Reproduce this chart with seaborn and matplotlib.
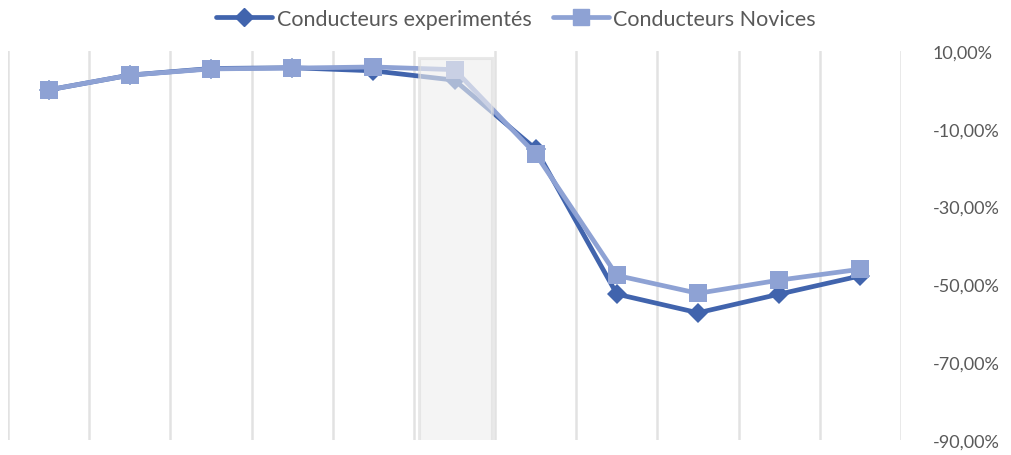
import matplotlib
matplotlib.use("Agg")
import matplotlib.pyplot as plt
import matplotlib.ticker as mticker
from matplotlib.patches import Rectangle
from matplotlib.lines import Line2D
import seaborn as sns
import pandas as pd

# Series values (percent change), one per period
periods = list(range(11))
experimentes = [0.0, 3.8, 5.5, 5.7, 4.9, 2.5, -15.2, -52.5, -57.3, -52.5, -47.8]
novices = [0.0, 3.8, 5.4, 5.6, 5.9, 5.2, -16.5, -47.7, -52.3, -48.9, -46.1]
series_names = ["Conducteurs experimentés", "Conducteurs Novices"]
y_ticks = [10, -10, -30, -50, -70, -90]
highlight_period = 5

df = pd.DataFrame({
    "periode": periods * 2,
    "valeur": experimentes + novices,
    "serie": [series_names[0]] * len(periods) + [series_names[1]] * len(periods),
})

sns.set_theme(style="white")
plt.rcParams["font.family"] = ["Lato", "DejaVu Sans"]

fig = plt.figure(figsize=(10.11, 4.56), dpi=100)
ax = fig.add_axes([8 / 1011, 15 / 456, 893 / 1011, 389 / 456])

colors = {series_names[0]: "#4164AD", series_names[1]: "#8EA2D4"}
sns.lineplot(data=df, x="periode", y="valeur", hue="serie", style="serie",
             markers={series_names[0]: "D", series_names[1]: "s"},
             dashes=False, palette=colors, linewidth=3.4, markersize=11,
             markeredgewidth=0, ax=ax, legend=False, zorder=3)
# square markers slightly larger than diamonds
for line in ax.get_lines():
    if line.get_marker() == "s":
        line.set_markersize(12.5)
    else:
        line.set_markersize(10)

# highlighted period band drawn over the lines
band = Rectangle((highlight_period - 0.44, -90.5), 0.9, 98.7,
                 facecolor="#eeeeee", edgecolor="#dcdcdc", linewidth=2.2,
                 alpha=0.62, zorder=5)
ax.add_patch(band)

ax.set_xlim(-0.5, 10.5)
ax.set_ylim(-90, 10)
ax.set_xticks([p - 0.5 for p in periods] + [10.5])
ax.set_xticklabels([])
ax.tick_params(axis="x", length=0)
ax.grid(axis="x", color="#e2e2e2", linewidth=1.8)
ax.grid(axis="y", visible=False)
ax.set_xlabel("")
ax.set_ylabel("")

ax.yaxis.tick_right()
ax.set_yticks(y_ticks)
ax.yaxis.set_major_formatter(mticker.FuncFormatter(lambda v, _: f"{v:.2f}%".replace(".", ",")))
ax.tick_params(axis="y", length=0, pad=23, labelsize=13, labelcolor="#595959")
for lab in ax.get_yticklabels():
    lab.set_horizontalalignment("left")

for s in ax.spines.values():
    s.set_visible(False)

handles = [
    Line2D([], [], color=colors[series_names[0]], lw=3.4, marker="D", markersize=9),
    Line2D([], [], color=colors[series_names[1]], lw=3.4, marker="s", markersize=11),
]
fig.legend(handles, series_names, loc="center", bbox_to_anchor=(516 / 1011, 1 - 20 / 456),
           ncol=2, frameon=False, fontsize=15.5, handlelength=2.6, handletextpad=0.2,
           columnspacing=1.0, labelcolor="#595959")

fig.savefig("out.png", dpi=100)
